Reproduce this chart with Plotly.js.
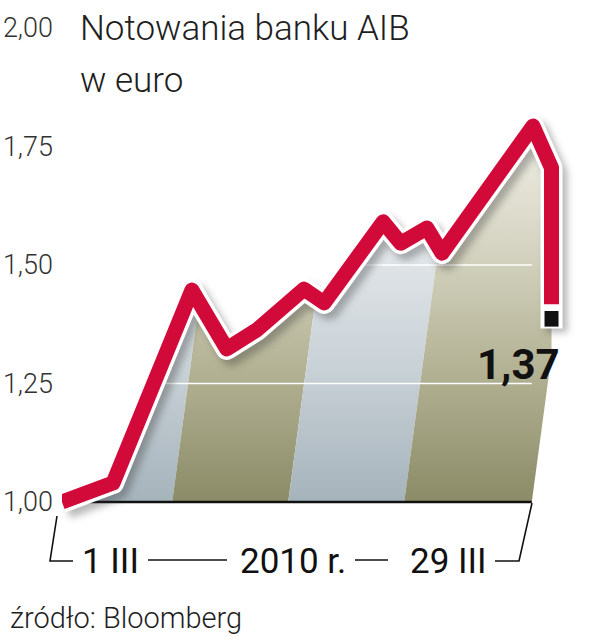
<!DOCTYPE html>
<html>
<head>
<meta charset="utf-8">
<script src="https://cdn.plot.ly/plotly-3.0.1.min.js"></script>
<style>
  html, body { margin: 0; padding: 0; background: #fff; }
  #chart { width: 594px; height: 640px; }
  path.js-line { stroke-linejoin: round; }
  .overplot .x2y2 path.js-line { filter: blur(3.5px); }
</style>
</head>
<body>
<div id="chart"></div>
<script>
// ---- data ----
// x: position in trading sessions from 1 III 2010, y: price in EUR
const sessionX = [0, 2.2, 5.6, 7.1, 8.4, 9.15, 10.43, 11.3, 13.84, 14.6, 15.73, 16.38, 20.3, 21.1, 21.1];
const priceEUR = [1.00, 1.04, 1.447, 1.323, 1.363, 1.397, 1.449, 1.42, 1.591, 1.546, 1.578, 1.525, 1.793, 1.705, 1.37];
const yTicks = [1.00, 1.25, 1.50, 1.75, 2.00];
const gridTicks = [1.25, 1.50];
// week bands (session units, at the base line)
const weekEdges = [-0.6, 4.75, 9.75, 14.75, 20.25];
const dateLabels = ["1 III", "2010 r.", "29 III"];
const lastLabel = "1,37";
const titleLines = ["Notowania banku AIB", "w euro"];
const sourceText = "źródło: Bloomberg";

// ---- geometry helpers ----
const W = 594, H = 640;
const mL = 62, mR = 0, mT = 28, mB = 24;
const pxPerSession = 23.2, pxPerEuro = 474;
const plotW = W - mL - mR, plotH = H - mT - mB;
const xRange = [0, plotW / pxPerSession];
const yRange = [2 - plotH / pxPerEuro, 2];
const P = px => (px - mL) / plotW;          // pixel -> paper x
const Q = py => (H - mB - py) / plotH;      // pixel -> paper y

// slant of band edges (sessions per euro)
const slant = (16 / pxPerSession) / (119 / pxPerEuro);

// area under line as polygon
const subject = sessionX.map((x, i) => [x, priceEUR[i]]);
subject.push([sessionX[sessionX.length - 1], 1.0]);
subject.push([sessionX[0], 1.0]);

function intersect(P1, P2, A, B) {
  const x1 = P1[0], y1 = P1[1], x2 = P2[0], y2 = P2[1];
  const x3 = A[0], y3 = A[1], x4 = B[0], y4 = B[1];
  const d = (x1 - x2) * (y3 - y4) - (y1 - y2) * (x3 - x4);
  if (Math.abs(d) < 1e-12) return [x2, y2];
  const t = ((x1 - x3) * (y3 - y4) - (y1 - y3) * (x3 - x4)) / d;
  return [x1 + t * (x2 - x1), y1 + t * (y2 - y1)];
}
function clip(subj, clipPoly) {
  let out = subj.slice();
  for (let i = 0; i < clipPoly.length; i++) {
    const A = clipPoly[i], B = clipPoly[(i + 1) % clipPoly.length];
    const inp = out; out = [];
    if (!inp.length) break;
    const inside = p => ((B[0] - A[0]) * (p[1] - A[1]) - (B[1] - A[1]) * (p[0] - A[0])) >= -1e-12;
    for (let j = 0; j < inp.length; j++) {
      const Pp = inp[j], Qp = inp[(j + 1) % inp.length];
      const pin = inside(Pp), qin = inside(Qp);
      if (pin) out.push(Pp);
      if (pin !== qin) out.push(intersect(Pp, Qp, A, B));
    }
  }
  return out;
}

const olive = [[0, '#8b8b67'], [0.35, '#b3b294'], [0.7, '#d8d7c6'], [1, '#efeee6']];
const steel = [[0, '#a5b3bb'], [0.35, '#c8d1d6'], [0.7, '#e4e8eb'], [1, '#f6f7f8']];

const traces = [];
for (let k = 0; k < weekEdges.length - 1; k++) {
  const a = weekEdges[k], b = weekEdges[k + 1], h = 1.2;
  const poly = clip(subject, [[a, 1.0], [b, 1.0], [b + slant * h, 1.0 + h], [a + slant * h, 1.0 + h]]);
  if (!poly.length) continue;
  poly.push(poly[0]);
  const cs = (k % 2 === 0) ? steel : olive;
  traces.push({
    type: 'scatter', mode: 'lines', x: poly.map(p => p[0]), y: poly.map(p => p[1]),
    fill: 'toself', fillcolor: cs[1][1],
    fillgradient: { type: 'vertical', colorscale: cs, start: 1.0, stop: 1.8 },
    line: { width: 0, color: 'rgba(0,0,0,0)' }, hoverinfo: 'skip', xaxis: 'x', yaxis: 'y'
  });
}
// white grid lines over the area
gridTicks.forEach(g => {
  traces.push({
    type: 'scatter', mode: 'lines', x: [0, weekEdges[weekEdges.length - 1]], y: [g, g],
    line: { color: '#ffffff', width: 1.6 }, hoverinfo: 'skip', xaxis: 'x', yaxis: 'y'
  });
});
// base line
traces.push({
  type: 'scatter', mode: 'lines', x: [sessionX[0], weekEdges[weekEdges.length - 1]], y: [1.0, 1.0],
  line: { color: '#111111', width: 2.5 }, hoverinfo: 'skip', xaxis: 'x', yaxis: 'y'
});
// shadow (shifted axes)
traces.push({
  type: 'scatter', mode: 'lines', x: sessionX, y: priceEUR,
  line: { color: 'rgba(40,40,40,0.32)', width: 22 }, hoverinfo: 'skip', xaxis: 'x2', yaxis: 'y2'
});
// white outline + red line + black end stub
const n = priceEUR.length;
const lastP = priceEUR[n - 1];
const redY = priceEUR.slice(); redY[n - 1] = lastP + 0.047;
traces.push({
  type: 'scatter', mode: 'lines', x: sessionX, y: priceEUR.map((v, i) => i === n - 1 ? v - 0.004 : v),
  line: { color: '#ffffff', width: 22 }, hoverinfo: 'skip', xaxis: 'x3', yaxis: 'y3'
});
traces.push({
  type: 'scatter', mode: 'lines', x: sessionX, y: redY,
  line: { color: '#d20a3a', width: 15 }, hoverinfo: 'skip', xaxis: 'x3', yaxis: 'y3'
});
traces.push({
  type: 'scatter', mode: 'lines', x: [sessionX[n - 1], sessionX[n - 1]], y: [lastP + 0.033, lastP],
  line: { color: '#111111', width: 14 }, hoverinfo: 'skip', xaxis: 'x3', yaxis: 'y3'
});

const sdx = 5, sdy = 6;
const shapes = [
  { type: 'path', xref: 'paper', yref: 'paper', line: { color: '#111', width: 1.6 },
    path: `M ${P(57)} ${Q(516)} L ${P(50)} ${Q(561)} L ${P(73)} ${Q(561)}` },
  { type: 'path', xref: 'paper', yref: 'paper', line: { color: '#111', width: 1.6 },
    path: `M ${P(148)} ${Q(560)} L ${P(227)} ${Q(560)}` },
  { type: 'path', xref: 'paper', yref: 'paper', line: { color: '#111', width: 1.6 },
    path: `M ${P(355)} ${Q(560)} L ${P(388)} ${Q(560)}` },
  { type: 'path', xref: 'paper', yref: 'paper', line: { color: '#111', width: 1.6 },
    path: `M ${P(495)} ${Q(561)} L ${P(519)} ${Q(561)} L ${P(532)} ${Q(503)}` }
];

const ann = (text, px, py, font, xanchor) => ({
  text, xref: 'paper', yref: 'paper', x: P(px), y: Q(py), xanchor: xanchor || 'left', yanchor: 'middle',
  showarrow: false, font
});
const annotations = [
  ann(titleLines[0], 78, 28, { family: 'Roboto', size: 35, weight: 300, color: '#1e1e1e' }),
  ann(titleLines[1], 78, 80, { family: 'Roboto', size: 35, weight: 300, color: '#1e1e1e' }),
  ann(dateLabels[0], 80, 561, { family: 'Roboto', size: 35, weight: 400, color: '#111' }),
  ann(dateLabels[1], 238, 561, { family: 'Roboto', size: 35, weight: 400, color: '#111' }),
  ann(dateLabels[2], 408, 561, { family: 'Roboto', size: 35, weight: 400, color: '#111' }),
  ann(sourceText, 8, 618, { family: 'Roboto', size: 29, weight: 300, color: '#1e1e1e' }),
  { text: lastLabel, xref: 'x3', yref: 'y3', x: sessionX[n - 1], y: lastP, xanchor: 'right', yanchor: 'middle',
    xshift: 10, yshift: -(362 - 324), showarrow: false,
    font: { family: 'Roboto', size: 42, weight: 700, color: '#111' } }
];

const layout = {
  width: W, height: H, margin: { l: mL, r: mR, t: mT, b: mB, pad: 0 },
  paper_bgcolor: '#ffffff', plot_bgcolor: 'rgba(0,0,0,0)', showlegend: false,
  separators: ', ',
  xaxis: { range: xRange, visible: false, fixedrange: true },
  yaxis: { range: yRange, tickvals: yTicks, tickformat: '.2f', showgrid: false, zeroline: false,
    showline: false, ticks: '', ticklabelstandoff: 8,
    tickfont: { family: 'Roboto', size: 27, weight: 300, color: '#333' }, fixedrange: true },
  xaxis2: { overlaying: 'x', anchor: 'y2', range: [xRange[0] - sdx / pxPerSession, xRange[1] - sdx / pxPerSession], visible: false, fixedrange: true },
  yaxis2: { overlaying: 'y', anchor: 'x2', range: [yRange[0] + sdy / pxPerEuro, yRange[1] + sdy / pxPerEuro], visible: false, fixedrange: true },
  xaxis3: { overlaying: 'x', anchor: 'y3', range: xRange, visible: false, fixedrange: true },
  yaxis3: { overlaying: 'y', anchor: 'x3', range: yRange, visible: false, fixedrange: true },
  shapes, annotations
};

Plotly.newPlot('chart', traces, layout, { staticPlot: true, displayModeBar: false });
</script>
</body>
</html>
